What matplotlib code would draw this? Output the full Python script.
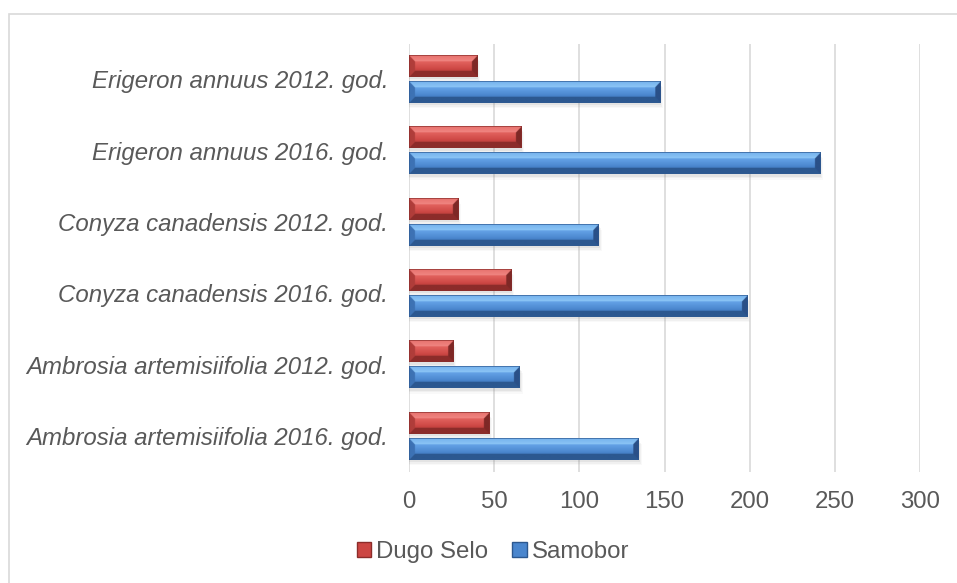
import numpy as np
import matplotlib
matplotlib.use("Agg")
import matplotlib.pyplot as plt
from matplotlib.patches import Patch, Rectangle
from matplotlib.colors import to_rgb

plt.rcParams['font.family'] = ['Liberation Sans', 'DejaVu Sans']

categories = [
    "Erigeron annuus 2012. god.",
    "Erigeron annuus 2016. god.",
    "Conyza canadensis 2012. god.",
    "Conyza canadensis 2016. god.",
    "Ambrosia artemisiifolia 2012. god.",
    "Ambrosia artemisiifolia 2016. god.",
]
dugo_selo = [40, 66, 29, 60, 26, 47]
samobor = [147.5, 241.5, 111.5, 198.5, 65, 135]
series_names = ["Dugo Selo", "Samobor"]
x_ticks = [0, 50, 100, 150, 200, 250, 300]

W, H = 957, 583
fig = plt.figure(figsize=(W / 100, H / 100), dpi=100)
# outer chart border
fig.add_artist(Rectangle((9 / W, -0.1), 1.2, 1 - 13.5 / H + 0.1, transform=fig.transFigure,
                         fill=False, edgecolor="#D9D9D9", linewidth=1.2))

ax_l, ax_r, ax_t, ax_b = 409, 920, 43.5, 472
ax = fig.add_axes([ax_l / W, 1 - ax_b / H, (ax_r - ax_l) / W, (ax_b - ax_t) / H])
ax.set_xlim(0, 300)
ax.set_ylim(len(categories) - 0.5, -0.5)
ax.set_aspect('auto')

px_per_unit_x = (ax_r - ax_l) / 300.0
px_per_unit_y = (ax_b - ax_t) / len(categories)

palettes = {
    "red": dict(main="#CC4643", top="#F08682", top2="#E2625E", bottom="#8C2C2A",
                left="#B03D3A", right="#7E2826", edge="#8A2E2C"),
    "blue": dict(main="#4A86CE", top="#8CC6F6", top2="#64A2E6", bottom="#2C5890",
                 left="#3D72B4", right="#2A5088", edge="#2E5A92"),
}


def bevel_image(length_px, height_px, pal, bev=6.0, s=3):
    nx = max(int(length_px * s), 2)
    ny = max(int(height_px * s), 2)
    xs = (np.arange(nx) + 0.5) / s
    ys = (np.arange(ny) + 0.5) / s
    X, Y = np.meshgrid(xs, ys)
    dl = X
    dr = length_px - X
    dt = Y
    db = height_px - Y
    bt = min(bev, height_px * 0.35)
    bb = min(bev, height_px * 0.3)
    bl = min(bev, length_px / 2)
    t = Y / height_px
    main = np.array(to_rgb(pal["main"]))
    top2 = np.array(to_rgb(pal["top2"]))
    dark = np.array(to_rgb(pal["bottom"]))
    w = np.clip((t - 0.3) / 0.35, 0, 1)[..., None]
    img = top2 * (1 - w) + main * w
    w2 = np.clip((t - 0.6) / 0.4, 0, 1)[..., None] * 0.45
    img = img * (1 - w2) + dark * w2
    ft = dt / bt
    fb = db / bb
    fl = dl / bl
    fr = dr / bl
    stack = np.stack([ft, fb, fl, fr])
    which = np.argmin(stack, axis=0)
    inface = np.min(stack, axis=0) < 1
    top = np.array(to_rgb(pal["top"]))
    mtop = inface & (which == 0)
    g = np.clip(ft, 0, 1)[..., None]
    topimg = top2 * (1 - g) * 0.6 + top * (1 - (1 - g) * 0.6)
    img[mtop] = topimg[mtop]
    for k, key in [(1, "bottom"), (2, "left"), (3, "right")]:
        m = inface & (which == k)
        img[m] = to_rgb(pal[key])
    edge = (dt < 0.7) | (db < 0.8) | (dl < 0.6) | (dr < 0.6)
    img[edge] = to_rgb(pal["edge"])
    return img


bar_h = 0.295
offset = 0.182
y_idx = np.arange(len(categories))

for vals, off, key in [(dugo_selo, -offset, "red"), (samobor, offset, "blue")]:
    pal = palettes[key]
    for i, v in zip(y_idx, vals):
        yc = i + off
        for k, a in enumerate([0.10, 0.07, 0.04]):
            sh = 0.035 + 0.02 * k
            ax.add_patch(Rectangle((0, yc - bar_h / 2 + sh), v + 0.6 * (k + 1), bar_h,
                                   facecolor="#7F7F7F", alpha=a, edgecolor="none", zorder=2))
        img = bevel_image(v * px_per_unit_x, bar_h * px_per_unit_y, pal)
        ax.imshow(img, extent=(0, v, yc + bar_h / 2, yc - bar_h / 2), aspect='auto',
                  interpolation='bilinear', zorder=3, origin='upper')

ax.set_xlim(0, 300)
ax.set_ylim(len(categories) - 0.5, -0.5)

ax.set_xticks(x_ticks)
ax.set_xticklabels([str(t) for t in x_ticks])
ax.set_yticks(y_idx)
ax.set_yticklabels(categories, fontstyle='italic')
ax.tick_params(axis='both', length=0, colors="#595959")
ax.tick_params(axis='y', pad=15, labelsize=17.3)
ax.tick_params(axis='x', pad=14, labelsize=17.3)
ax.grid(axis='x', color="#D9D9D9", linewidth=1.2, zorder=0)
ax.set_axisbelow(True)
for sp in ax.spines.values():
    sp.set_visible(False)

handles = [Patch(facecolor=palettes["red"]["main"], edgecolor=palettes["red"]["bottom"], label=series_names[0]),
           Patch(facecolor=palettes["blue"]["main"], edgecolor=palettes["blue"]["bottom"], label=series_names[1])]
leg = fig.legend(handles=handles, loc='center', bbox_to_anchor=(493 / W, 1 - 552 / H), ncol=2,
                 frameon=False, fontsize=17.3, handlelength=0.6, handleheight=0.6,
                 handletextpad=0.2, columnspacing=1.0)
for t in leg.get_texts():
    t.set_color("#595959")

fig.savefig("out.png", dpi=100)
